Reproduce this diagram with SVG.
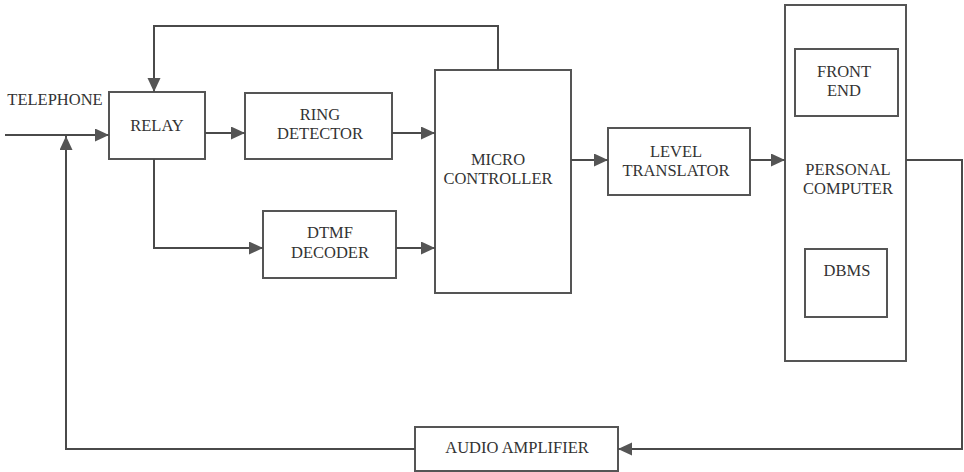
<svg xmlns="http://www.w3.org/2000/svg" width="964" height="472" viewBox="0 0 964 472">
<style>
.box{fill:none;stroke:#555;stroke-width:2}
.t{font-family:"Liberation Serif","Times New Roman",serif;font-size:16.5px;fill:#333;text-anchor:middle}
.c{fill:none;stroke:#4a4a4a;stroke-width:2}
</style>
<defs>
<marker id="ah" markerUnits="userSpaceOnUse" markerWidth="14" markerHeight="14" refX="14" refY="6.5" orient="auto">
<path d="M0,0 L14,6.5 L0,13 z" fill="#555"/>
</marker>
</defs>
<rect width="964" height="472" fill="#fff"/>
<text class="t" x="55" y="105">TELEPHONE</text>
<g id="relay"><rect class="box" x="109" y="92" width="96" height="67"/><text class="t" x="157" y="131">RELAY</text></g>
<g id="ring"><rect class="box" x="245" y="93" width="147" height="66"/><text class="t" x="320" y="120">RING</text><text class="t" x="320" y="139">DETECTOR</text></g>
<g id="dtmf"><rect class="box" x="263" y="211" width="133" height="67"/><text class="t" x="330" y="238">DTMF</text><text class="t" x="330" y="258">DECODER</text></g>
<g id="mc"><rect class="box" x="435" y="70" width="136" height="223"/><text class="t" x="498" y="165">MICRO</text><text class="t" x="498" y="184">CONTROLLER</text></g>
<g id="level"><rect class="box" x="608" y="128" width="142" height="67"/><text class="t" x="676" y="157">LEVEL</text><text class="t" x="676" y="176">TRANSLATOR</text></g>
<g id="pc"><rect class="box" x="785" y="5" width="121" height="356"/><text class="t" x="848" y="175">PERSONAL</text><text class="t" x="848" y="194">COMPUTER</text></g>
<g id="frontend"><rect class="box" x="795" y="49" width="103" height="67"/><text class="t" x="844" y="77">FRONT</text><text class="t" x="844" y="96">END</text></g>
<g id="dbms"><rect class="box" x="805" y="249" width="82" height="68"/><text class="t" x="847" y="276">DBMS</text></g>
<g id="audio"><rect class="box" x="415" y="427" width="203" height="44"/><text class="t" x="517" y="453">AUDIO AMPLIFIER</text></g>
<g id="connectors">
<path class="c" d="M5,135 H109" marker-end="url(#ah)"/>
<path class="c" d="M498,70 V26 H154 V92" marker-end="url(#ah)"/>
<path class="c" d="M205,133 H245" marker-end="url(#ah)"/>
<path class="c" d="M392,133 H435" marker-end="url(#ah)"/>
<path class="c" d="M154,159 V248 H263" marker-end="url(#ah)"/>
<path class="c" d="M396,248 H435" marker-end="url(#ah)"/>
<path class="c" d="M571,160 H608" marker-end="url(#ah)"/>
<path class="c" d="M750,160 H785" marker-end="url(#ah)"/>
<path class="c" d="M906,160 H962 V449 H618" marker-end="url(#ah)"/>
<path class="c" d="M415,449 H66 V136" marker-end="url(#ah)"/>
</g>
</svg>
